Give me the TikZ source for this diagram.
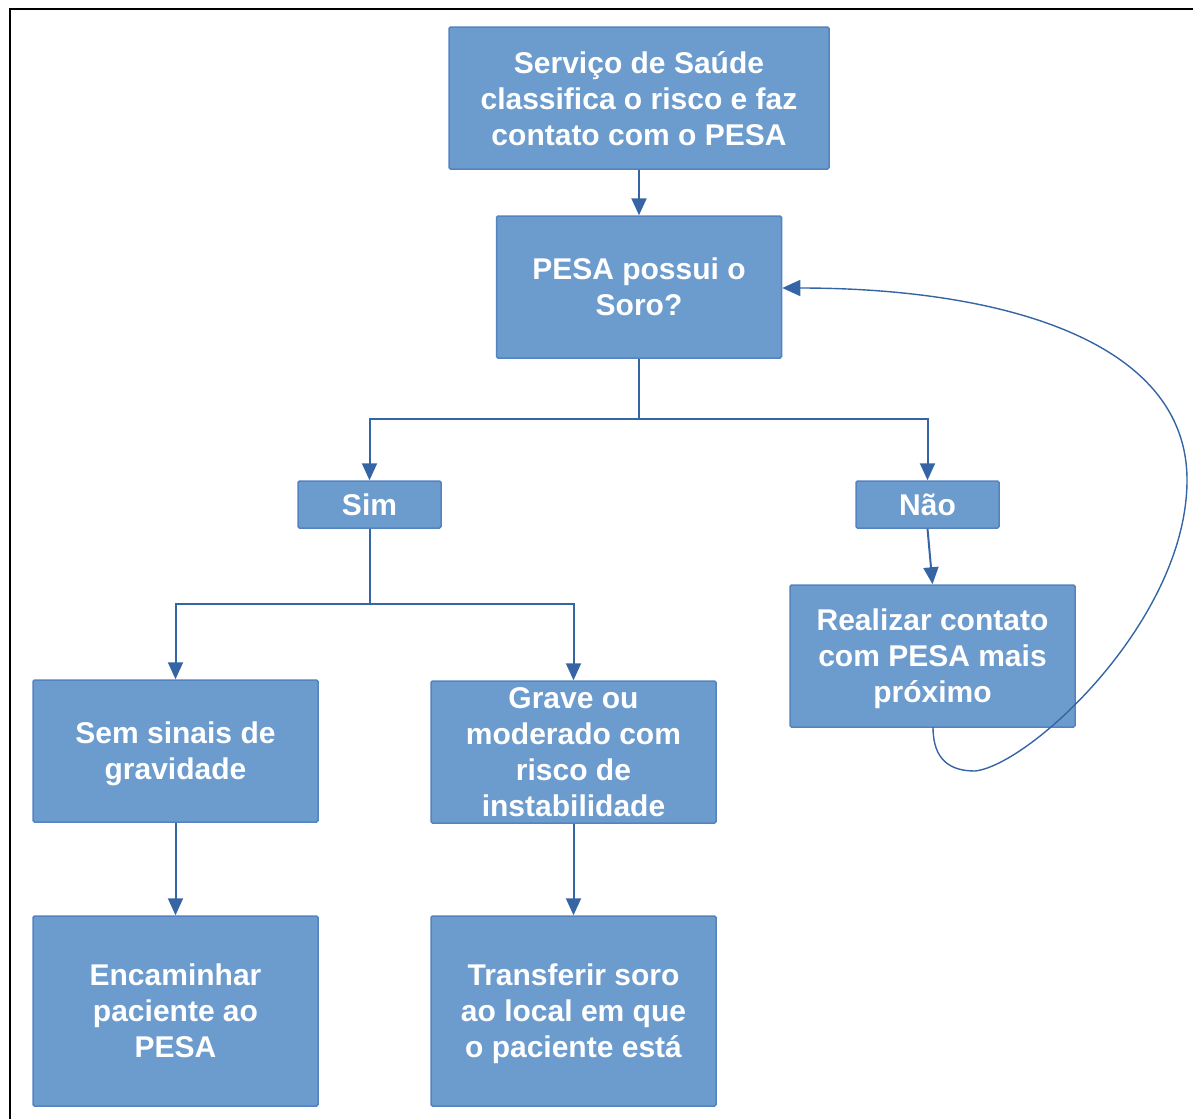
\documentclass[tikz,border=0pt]{standalone}
\usepackage{fontspec}
\setmainfont{Liberation Sans}
\usetikzlibrary{arrows.meta}
\definecolor{boxfill}{HTML}{6C9BCD}
\definecolor{boxline}{HTML}{5583BF}
\definecolor{arrowcol}{HTML}{3565A5}
\begin{document}
\begin{tikzpicture}[x=1pt,y=-1pt,
  flowbox/.style={draw=boxline,fill=boxfill,line width=1.5pt,rounded corners=1.5pt,
    text=white,align=center,inner sep=0pt,text depth=0pt,
    font=\fontsize{30}{36}\selectfont\bfseries},
  conn/.style={draw=arrowcol,line width=2pt},
  arr/.style={conn,-{Triangle[width=15pt,length=17pt]}},
  loop/.style={draw=arrowcol,line width=1.4pt,-{Triangle[width=16pt,length=18pt]}}]
\useasboundingbox (0,0) rectangle (1193,1119);
% frame
\draw[line width=2pt,black] (10,1119) -- (10,9) -- (1193,9);
% boxes
\node[flowbox,minimum width=380pt,minimum height=142pt] (top) at (639,98)
  {Serviço de Saúde\\classifica o risco e faz\\contato com o PESA};
\node[flowbox,minimum width=285pt,minimum height=142pt] (pesa) at (639,287)
  {PESA possui o\\Soro?};
\node[flowbox,minimum width=143pt,minimum height=47pt] (sim) at (369.5,504.5) {Sim};
\node[flowbox,minimum width=143pt,minimum height=47pt] (nao) at (927.5,504.5) {Não};
\node[flowbox,minimum width=285pt,minimum height=142pt] (real) at (932.5,656)
  {Realizar contato\\com PESA mais\\próximo};
\node[flowbox,minimum width=285pt,minimum height=142pt] (sem) at (175.5,751)
  {Sem sinais de\\gravidade};
\node[flowbox,minimum width=285pt,minimum height=142pt] (grave) at (573.5,752)
  {Grave ou\\moderado com\\risco de\\instabilidade};
\node[flowbox,minimum width=285pt,minimum height=190pt] (enc) at (175.5,1011)
  {Encaminhar\\paciente ao\\PESA};
\node[flowbox,minimum width=285pt,minimum height=190pt] (trans) at (573.5,1011)
  {Transferir soro\\ao local em que\\o paciente está};
% junction coordinates
\coordinate (j1) at (639,419);
\coordinate (j2) at (369.5,604);
% connectors
\draw[arr] (top.south) -- (pesa.north);
\draw[conn] (pesa.south) -- (j1);
\draw[arr] (j1) -| (sim.north);
\draw[arr] (j1) -| (nao.north);
\draw[arr] (nao.south) -- (real.north);
\draw[conn] (sim.south) -- (j2);
\draw[arr] (j2) -| (sem.north);
\draw[arr] (j2) -| (grave.north);
\draw[arr] (sem.south) -- (enc.north);
\draw[arr] (grave.south) -- (trans.north);
\coordinate (lb) at (975,771);
\coordinate (lr) at (1187,480);
\draw[loop] (933,727) .. controls (933,760) and (950,771) .. (lb)
  .. controls (1030,765) and (1187,620) .. (lr)
  .. controls (1187,340) and (1000,288) .. (pesa.east |- 0,288);
\end{tikzpicture}
\end{document}
